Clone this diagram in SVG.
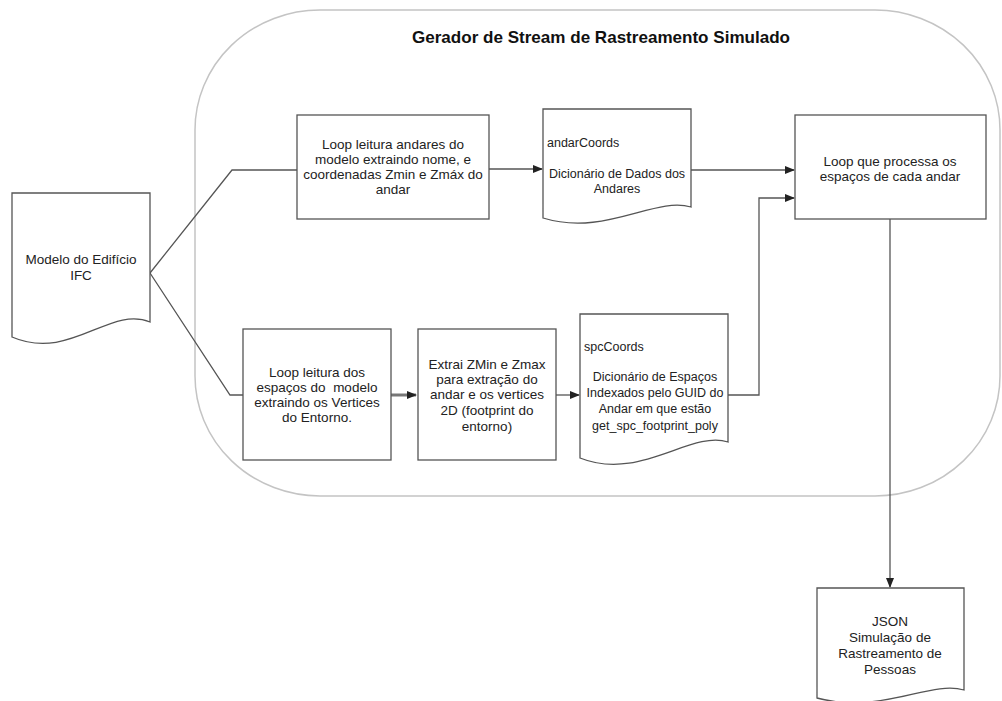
<svg xmlns="http://www.w3.org/2000/svg" width="1002" height="701" viewBox="0 0 1002 701">
<style>
.box{fill:#fff;stroke:#555;stroke-width:1.3}
.t{font-family:"Liberation Sans",Arial,sans-serif;font-size:13.5px;fill:#222;text-anchor:middle}
.s{font-family:"Liberation Sans",Arial,sans-serif;font-size:12.5px;fill:#222;text-anchor:middle}
.l{font-family:"Liberation Sans",Arial,sans-serif;font-size:12.5px;fill:#222}
.c{fill:none;stroke:#555;stroke-width:1.3}
</style>
<defs>
<marker id="ah" markerWidth="10" markerHeight="8" refX="9" refY="4" orient="auto" markerUnits="userSpaceOnUse">
<path d="M0,0 L10,4 L0,8 Z" fill="#222"/>
</marker>
</defs>
<rect width="1002" height="701" fill="#fff"/>
<g id="container">
<rect x="195" y="10" width="805" height="486" rx="125" ry="120" fill="none" stroke="#c4c4c4" stroke-width="1.5"/>
<text x="601" y="43" font-family="Liberation Sans,Arial,sans-serif" font-size="17" font-weight="bold" fill="#111" text-anchor="middle" textLength="378" lengthAdjust="spacingAndGlyphs">Gerador de Stream de Rastreamento Simulado</text>
</g>
<g id="connectors">
<polyline class="c" points="150,273 232,170 297,170"/>
<polyline class="c" points="150,273 230,395 243,395"/>
<line class="c" x1="489" y1="169" x2="542" y2="169" marker-end="url(#ah)"/>
<line class="c" x1="691" y1="170" x2="794" y2="170" marker-end="url(#ah)"/>
<polyline class="c" points="728,395 759,395 759,198 794,198" marker-end="url(#ah)"/>
<line x1="391" y1="395" x2="416" y2="395" stroke="#777" stroke-width="3" marker-end="url(#ah)"/>
<line class="c" x1="556" y1="395" x2="579" y2="395" marker-end="url(#ah)"/>
<line class="c" x1="890" y1="219" x2="890" y2="587" marker-end="url(#ah)"/>
</g>
<g id="ifc">
<path class="box" d="M12,193 L150,193 L150,322 C110,305 70,362 12,337 Z"/>
<text class="t" x="81" y="264">Modelo do Edifício</text>
<text class="t" x="81" y="280">IFC</text>
</g>
<g id="loop-andares">
<rect class="box" x="297" y="115" width="192" height="104"/>
<text class="t" x="393" y="149">Loop leitura andares do</text>
<text class="t" x="393" y="164">modelo extraindo nome, e</text>
<text class="t" x="393" y="179">coordenadas Zmin e Zmáx do</text>
<text class="t" x="393" y="194">andar</text>
</g>
<g id="andarCoords">
<path class="box" d="M543,109 L691,109 L691,207 C655,196 605,237 543,218 Z"/>
<text class="l" x="547" y="147">andarCoords</text>
<text class="s" x="617" y="178">Dicionário de Dados dos</text>
<text class="s" x="617" y="193">Andares</text>
</g>
<g id="loop-espacos-andar">
<rect class="box" x="795" y="115" width="191" height="104"/>
<text class="t" x="890" y="166">Loop que processa os</text>
<text class="t" x="890" y="181">espaços de cada andar</text>
</g>
<g id="loop-espacos">
<rect class="box" x="243" y="329" width="148" height="131"/>
<text class="t" x="317" y="377">Loop leitura dos</text>
<text class="t" x="317" y="392">espaços do&#160; modelo</text>
<text class="t" x="317" y="407">extraindo os Vertices</text>
<text class="t" x="317" y="422">do Entorno.</text>
</g>
<g id="extrai">
<rect class="box" x="418" y="329" width="138" height="131"/>
<text class="t" x="487" y="369">Extrai ZMin e Zmax</text>
<text class="t" x="487" y="384">para extração do</text>
<text class="t" x="487" y="399">andar e os vertices</text>
<text class="t" x="487" y="415">2D (footprint do</text>
<text class="t" x="487" y="431">entorno)</text>
</g>
<g id="spcCoords">
<path class="box" d="M580,314 L728,314 L728,442 C690,430 640,482 580,458 Z"/>
<text class="l" x="584" y="351" font-size="12">spcCoords</text>
<text class="s" x="655" y="381" font-size="12">Dicionário de Espaços</text>
<text class="s" x="655" y="397" font-size="12">Indexados pelo GUID do</text>
<text class="s" x="655" y="413" font-size="12">Andar em que estão</text>
<text class="s" x="655" y="430" font-size="12">get_spc_footprint_poly</text>
</g>
<g id="json">
<path class="box" d="M817,588 L964,588 L964,690 C930,680 880,715 817,698 Z"/>
<text class="t" x="890" y="626">JSON</text>
<text class="t" x="890" y="642">Simulação de</text>
<text class="t" x="890" y="658">Rastreamento de</text>
<text class="t" x="890" y="674">Pessoas</text>
</g>
</svg>
